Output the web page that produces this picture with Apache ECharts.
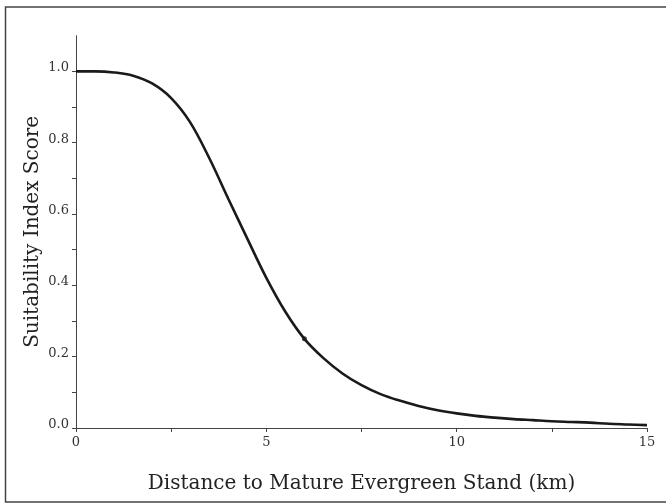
<!DOCTYPE html>
<html>
<head>
<meta charset="utf-8">
<script src="https://cdn.jsdelivr.net/npm/echarts@6/dist/echarts.min.js"></script>
<style>html,body{margin:0;padding:0;background:#fff}#c{width:666px;height:504px}</style>
</head>
<body>
<div id="c"></div>
<script>
// Distance (km)
const distance = [0,0.5,1,1.5,2,2.5,3,3.5,4,4.5,5,5.5,6,6.5,7,7.5,8,8.5,9,9.5,10,10.5,11,11.5,12,12.5,13,13.5,14,14.5,15];
// Suitability index score
const score = [1.0,1.0,0.997,0.988,0.966,0.925,0.857,0.757,0.643,0.531,0.421,0.326,0.25,0.196,0.153,0.12,0.095,0.077,0.062,0.050,0.041,0.034,0.029,0.025,0.022,0.019,0.017,0.015,0.012,0.010,0.008];
// highlighted point
const markX = [6];
const markY = [0.25];
// tick positions and labels
const xTicks = [0,2.5,5,7.5,10,12.5,15];
const xLabels = [0,5,10,15];
const yTicks = [0,0.1,0.2,0.3,0.4,0.5,0.6,0.7,0.8,0.9,1.0];
const yLabels = [0,0.2,0.4,0.6,0.8,1.0];

const chart = echarts.init(document.getElementById('c'), null, {renderer:'canvas'});
const font = 'DejaVu Serif';
chart.setOption({
  animation:false,
  backgroundColor:'#fff',
  graphic:[{
    type:'rect', shape:{x:5.5,y:7,width:670,height:495},
    style:{fill:'none',stroke:'#444',lineWidth:1.5}, silent:true
  }],
  grid:{left:76,right:19,top:35.7,bottom:76},
  xAxis:{
    type:'value', min:0, max:15,
    name:'Distance to Mature Evergreen Stand (km)',
    nameLocation:'middle', nameGap:46, nameMoveOverlap:false,
    nameTextStyle:{fontFamily:font,fontSize:20,color:'#222'},
    axisLine:{show:true,onZero:false,lineStyle:{color:'#444',width:1}},
    axisTick:{show:true,length:4,customValues:xTicks,lineStyle:{color:'#444'}},
    axisLabel:{customValues:xLabels,margin:8,fontFamily:font,fontSize:13,color:'#333'},
    splitLine:{show:false}
  },
  yAxis:{
    type:'value', min:0, max:1.1,
    name:'Suitability Index Score',
    nameLocation:'middle', nameGap:33, nameMoveOverlap:false,
    nameTextStyle:{fontFamily:font,fontSize:20,color:'#222'},
    axisLine:{show:true,onZero:false,lineStyle:{color:'#444',width:1}},
    axisTick:{show:true,length:4,customValues:yTicks,lineStyle:{color:'#444'}},
    axisLabel:{customValues:yLabels,margin:7,fontFamily:font,fontSize:13,color:'#333',
      verticalAlign:'bottom', lineHeight:7,
      formatter:v=>v.toFixed(1)},
    splitLine:{show:false}
  },
  series:[{
    type:'line', data:distance.map((d,i)=>[d,score[i]]),
    smooth:0.35, showSymbol:false,
    lineStyle:{color:'#1a1a1a',width:2.6}
  },{
    type:'scatter', data:markX.map((d,i)=>[d,markY[i]]),
    symbolSize:5, itemStyle:{color:'#1a1a1a'}
  }]
});
</script>
</body>
</html>
